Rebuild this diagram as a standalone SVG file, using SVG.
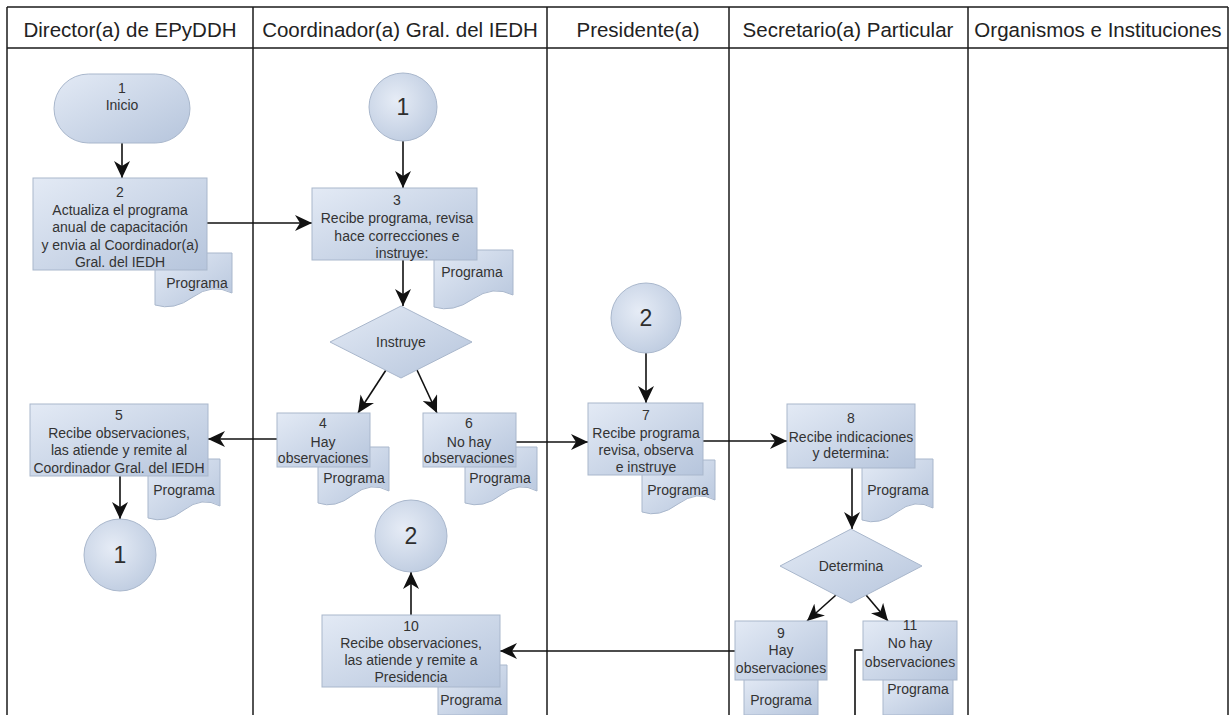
<svg xmlns="http://www.w3.org/2000/svg" width="1231" height="715" viewBox="0 0 1231 715">
<defs>
<style>
.lane{stroke:#1a1a1a;stroke-width:1.5;fill:none}
.hdr{font-family:"Liberation Sans",Arial,sans-serif;font-size:20.5px;fill:#222;text-anchor:middle}
.n{fill:url(#gf);stroke:#a9b7cc;stroke-width:1}
.c{fill:url(#gc);stroke:#a9b7cc;stroke-width:1}
.t{font-family:"Liberation Sans",Arial,sans-serif;font-size:14px;fill:#333;text-anchor:middle}
.big{font-family:"Liberation Sans",Arial,sans-serif;font-size:23px;fill:#2e2e2e;text-anchor:middle}
.e{stroke:#111;stroke-width:1.6;fill:none}
.ea{stroke:#111;stroke-width:1.6;fill:none;marker-end:url(#ah)}
</style>
<linearGradient id="gf" x1="0" y1="0" x2="1" y2="1">
<stop offset="0" stop-color="#e3eaf5"/>
<stop offset="1" stop-color="#b6c5dc"/>
</linearGradient>
<radialGradient id="gc" cx="0.4" cy="0.4" r="0.7">
<stop offset="0" stop-color="#e6ecf6"/>
<stop offset="1" stop-color="#bccadf"/>
</radialGradient>
<marker id="ah" markerUnits="userSpaceOnUse" markerWidth="18" markerHeight="16" refX="17" refY="8" orient="auto">
<path d="M0,0 L17,8 L0,16 L5,8 Z" fill="#111"/>
</marker>
</defs>

<g id="lanes">
<line class="lane" x1="7" y1="7" x2="1228" y2="7"/>
<line class="lane" x1="7" y1="48" x2="1228" y2="48"/>
<line class="lane" x1="7" y1="7" x2="7" y2="715"/>
<line class="lane" x1="253" y1="7" x2="253" y2="715"/>
<line class="lane" x1="547" y1="7" x2="547" y2="715"/>
<line class="lane" x1="729" y1="7" x2="729" y2="715"/>
<line class="lane" x1="968" y1="7" x2="968" y2="715"/>
<line class="lane" x1="1228" y1="7" x2="1228" y2="715"/>
<text class="hdr" x="130" y="37">Director(a) de EPyDDH</text>
<text class="hdr" x="400" y="37">Coordinador(a) Gral. del IEDH</text>
<text class="hdr" x="638" y="37">Presidente(a)</text>
<text class="hdr" x="848" y="37">Secretario(a) Particular</text>
<text class="hdr" x="1098" y="37">Organismos e Instituciones</text>
</g>

<g id="connectors">
<line class="ea" x1="122" y1="143" x2="122" y2="178"/>
<line class="ea" x1="207" y1="223" x2="312" y2="223"/>
<line class="ea" x1="403" y1="141" x2="403" y2="188"/>
<line class="ea" x1="403" y1="260" x2="403" y2="306"/>
<line class="ea" x1="386" y1="370" x2="358" y2="413"/>
<line class="ea" x1="417" y1="370" x2="437" y2="413"/>
<line class="ea" x1="277" y1="439" x2="208" y2="439"/>
<line class="ea" x1="120" y1="476" x2="120" y2="519"/>
<line class="ea" x1="516" y1="442" x2="588" y2="442"/>
<line class="ea" x1="646" y1="353" x2="646" y2="403"/>
<line class="ea" x1="703" y1="441" x2="787" y2="441"/>
<line class="ea" x1="852" y1="468" x2="852" y2="529"/>
<line class="ea" x1="836" y1="595" x2="807" y2="621"/>
<line class="ea" x1="866" y1="595" x2="888" y2="621"/>
<line class="ea" x1="735" y1="651" x2="500" y2="651"/>
<line class="ea" x1="411" y1="615" x2="411" y2="572"/>
<polyline class="e" points="863,650 855,650 855,715"/>
</g>

<g id="n1">
<rect class="n" x="54" y="74" width="136" height="69" rx="34.5" ry="34.5"/>
<text class="t" x="122" y="93">1</text>
<text class="t" x="122" y="110">Inicio</text>
</g>

<g id="n2">
<path class="n" d="M155,253 H232 V293 Q212,283 193,297 T155,305 Z"/>
<text class="t" x="197" y="288">Programa</text>
<rect class="n" x="33" y="178" width="174" height="92"/>
<text class="t" x="120" y="197">2</text>
<text class="t" x="120" y="215">Actualiza el programa</text>
<text class="t" x="120" y="232">anual de capacitación</text>
<text class="t" x="120" y="250">y envia al Coordinador(a)</text>
<text class="t" x="120" y="267">Gral. del IEDH</text>
</g>

<g id="c1a">
<circle class="c" cx="403" cy="107" r="34"/>
<text class="big" x="403" y="115">1</text>
</g>

<g id="n3">
<path class="n" d="M434,250 H513 V295 Q493,285 473,299 T434,307 Z"/>
<text class="t" x="472" y="277">Programa</text>
<rect class="n" x="312" y="188" width="165" height="72"/>
<text class="t" x="397" y="205">3</text>
<text class="t" x="397" y="223">Recibe programa, revisa</text>
<text class="t" x="397" y="241">hace correcciones e</text>
<text class="t" x="402" y="258">instruye:</text>
</g>

<g id="d1">
<polygon class="n" points="401,306 472,342 401,378 330,342"/>
<text class="t" x="401" y="347">Instruye</text>
</g>

<g id="n4">
<path class="n" d="M318,447 H389 V491 Q371,481 353,495 T318,503 Z"/>
<text class="t" x="354" y="483">Programa</text>
<rect class="n" x="277" y="413" width="93" height="54"/>
<text class="t" x="323" y="428">4</text>
<text class="t" x="323" y="447">Hay</text>
<text class="t" x="323" y="463">observaciones</text>
</g>

<g id="n6">
<path class="n" d="M465,447 H537 V491 Q519,481 501,495 T465,503 Z"/>
<text class="t" x="500" y="483">Programa</text>
<rect class="n" x="423" y="413" width="93" height="54"/>
<text class="t" x="469" y="428">6</text>
<text class="t" x="469" y="447">No hay</text>
<text class="t" x="469" y="463">observaciones</text>
</g>

<g id="n5">
<path class="n" d="M148,459 H220 V506 Q202,496 184,510 T148,518 Z"/>
<text class="t" x="184" y="495">Programa</text>
<rect class="n" x="30" y="404" width="178" height="72"/>
<text class="t" x="119" y="420">5</text>
<text class="t" x="119" y="438">Recibe observaciones,</text>
<text class="t" x="119" y="455">las atiende y remite al</text>
<text class="t" x="119" y="473">Coordinador Gral. del IEDH</text>
</g>

<g id="c1b">
<circle class="c" cx="120" cy="555" r="36"/>
<text class="big" x="120" y="563">1</text>
</g>

<g id="c2a">
<circle class="c" cx="646" cy="318" r="35"/>
<text class="big" x="646" y="326">2</text>
</g>

<g id="n7">
<path class="n" d="M642,460 H715 V500 Q697,490 678,504 T642,512 Z"/>
<text class="t" x="678" y="495">Programa</text>
<rect class="n" x="588" y="403" width="115" height="72"/>
<text class="t" x="646" y="420">7</text>
<text class="t" x="646" y="438">Recibe programa</text>
<text class="t" x="646" y="455">revisa, observa</text>
<text class="t" x="646" y="472">e instruye</text>
</g>

<g id="n8">
<path class="n" d="M862,459 H933 V508 Q915,498 897,512 T862,520 Z"/>
<text class="t" x="898" y="495">Programa</text>
<rect class="n" x="787" y="404" width="128" height="64"/>
<text class="t" x="851" y="423">8</text>
<text class="t" x="851" y="442">Recibe indicaciones</text>
<text class="t" x="851" y="458">y determina:</text>
</g>

<g id="d2">
<polygon class="n" points="851,529 922,566 851,603 780,566"/>
<text class="t" x="851" y="571">Determina</text>
</g>

<g id="c2b">
<circle class="c" cx="411" cy="536" r="36"/>
<text class="big" x="411" y="544">2</text>
</g>

<g id="n10">
<path class="n" d="M438,665 H507 V715 H438 Z"/>
<text class="t" x="471" y="705">Programa</text>
<rect class="n" x="322" y="615" width="178" height="72"/>
<text class="t" x="411" y="631">10</text>
<text class="t" x="411" y="648">Recibe observaciones,</text>
<text class="t" x="411" y="665">las atiende y remite a</text>
<text class="t" x="411" y="682">Presidencia</text>
</g>

<g id="n9">
<path class="n" d="M744,677 H818 V715 H744 Z"/>
<text class="t" x="781" y="705">Programa</text>
<rect class="n" x="735" y="621" width="92" height="59"/>
<text class="t" x="781" y="638">9</text>
<text class="t" x="781" y="655">Hay</text>
<text class="t" x="781" y="673">observaciones</text>
</g>

<g id="n11">
<path class="n" d="M883,677 H953 V715 H883 Z"/>
<text class="t" x="918" y="694">Programa</text>
<rect class="n" x="863" y="621" width="94" height="59"/>
<text class="t" x="910" y="630">11</text>
<text class="t" x="910" y="648">No hay</text>
<text class="t" x="910" y="667">observaciones</text>
</g>
</svg>
